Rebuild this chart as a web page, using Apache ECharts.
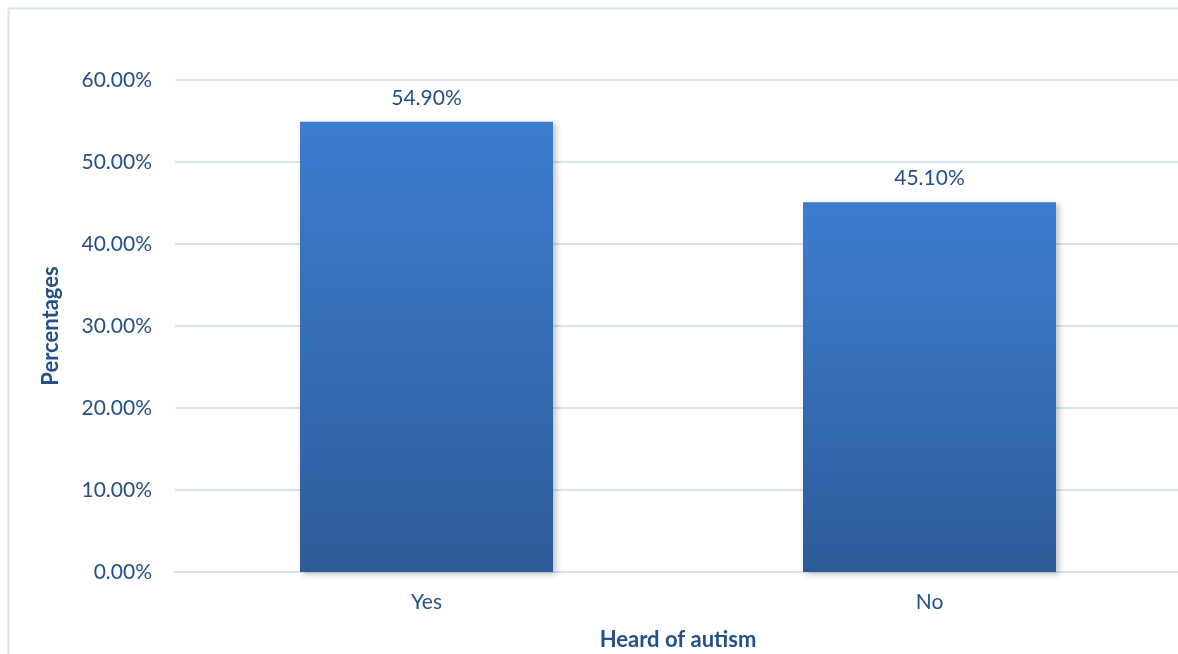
<!DOCTYPE html>
<html>
<head>
<meta charset="utf-8">
<script src="https://cdn.jsdelivr.net/npm/echarts@6/dist/echarts.min.js"></script>
<style>
  html, body { margin: 0; padding: 0; background: #ffffff; overflow: hidden; }
  #chart { width: 1178px; height: 654px; }
</style>
</head>
<body>
<div id="chart"></div>
<script>
// Survey answers: "Heard of autism"
const categories = ['Yes', 'No'];
const percentages = [54.9, 45.1];
const yTicks = [0, 10, 20, 30, 40, 50, 60];

const textColor = '#24508a';
const gridColor = '#d6e3f3';
const fontFamily = 'Lato, "Open Sans", "Liberation Sans", sans-serif';

const chart = echarts.init(document.getElementById('chart'), null, { renderer: 'canvas' });

chart.setOption({
  backgroundColor: '#ffffff',
  animation: false,
  // chart frame: left and top edges only, the rest runs off the page
  graphic: [{
    type: 'polyline',
    shape: { points: [[8.5, 800], [8.5, 8.5], [1400, 8.5]] },
    style: { fill: 'none', stroke: gridColor, lineWidth: 2 },
    silent: true,
    z: -1
  }],
  grid: {
    left: 175, top: 80, width: 1006, height: 492,
    containLabel: false,
    outerBoundsMode: 'none'
  },
  xAxis: {
    type: 'category',
    data: categories,
    name: 'Heard of autism',
    nameLocation: 'middle',
    nameGap: 57,
    nameTextStyle: { color: textColor, fontSize: 22, fontWeight: 'bold', fontFamily },
    axisLine: { show: true, lineStyle: { color: gridColor, width: 2 } },
    axisTick: { show: false },
    axisLabel: { color: textColor, fontSize: 21, fontFamily, margin: 20 }
  },
  yAxis: {
    type: 'value',
    min: yTicks[0],
    max: yTicks[yTicks.length - 1],
    interval: 10,
    name: 'Percentages',
    nameLocation: 'middle',
    nameGap: 113,
    nameRotate: 90,
    nameTextStyle: { color: textColor, fontSize: 22, fontWeight: 'bold', fontFamily },
    axisLine: { show: false },
    axisTick: { show: false },
    axisLabel: {
      color: textColor, fontSize: 21, fontFamily, margin: 23,
      formatter: v => v.toFixed(2) + '%'
    },
    splitLine: { lineStyle: { color: gridColor, width: 2 } }
  },
  series: [{
    type: 'bar',
    data: percentages,
    barWidth: 253,
    itemStyle: {
      color: new echarts.graphic.LinearGradient(0, 0, 0, 1, [
        { offset: 0, color: '#3d7dcf' },
        { offset: 1, color: '#2c5c99' }
      ]),
      shadowColor: 'rgba(0,0,0,0.25)',
      shadowBlur: 6,
      shadowOffsetX: 3,
      shadowOffsetY: 2
    },
    label: {
      show: true,
      position: 'top',
      distance: 13,
      color: textColor,
      fontSize: 21,
      fontFamily,
      formatter: p => p.value.toFixed(2) + '%'
    },
    z: 3
  }]
});
</script>
</body>
</html>
